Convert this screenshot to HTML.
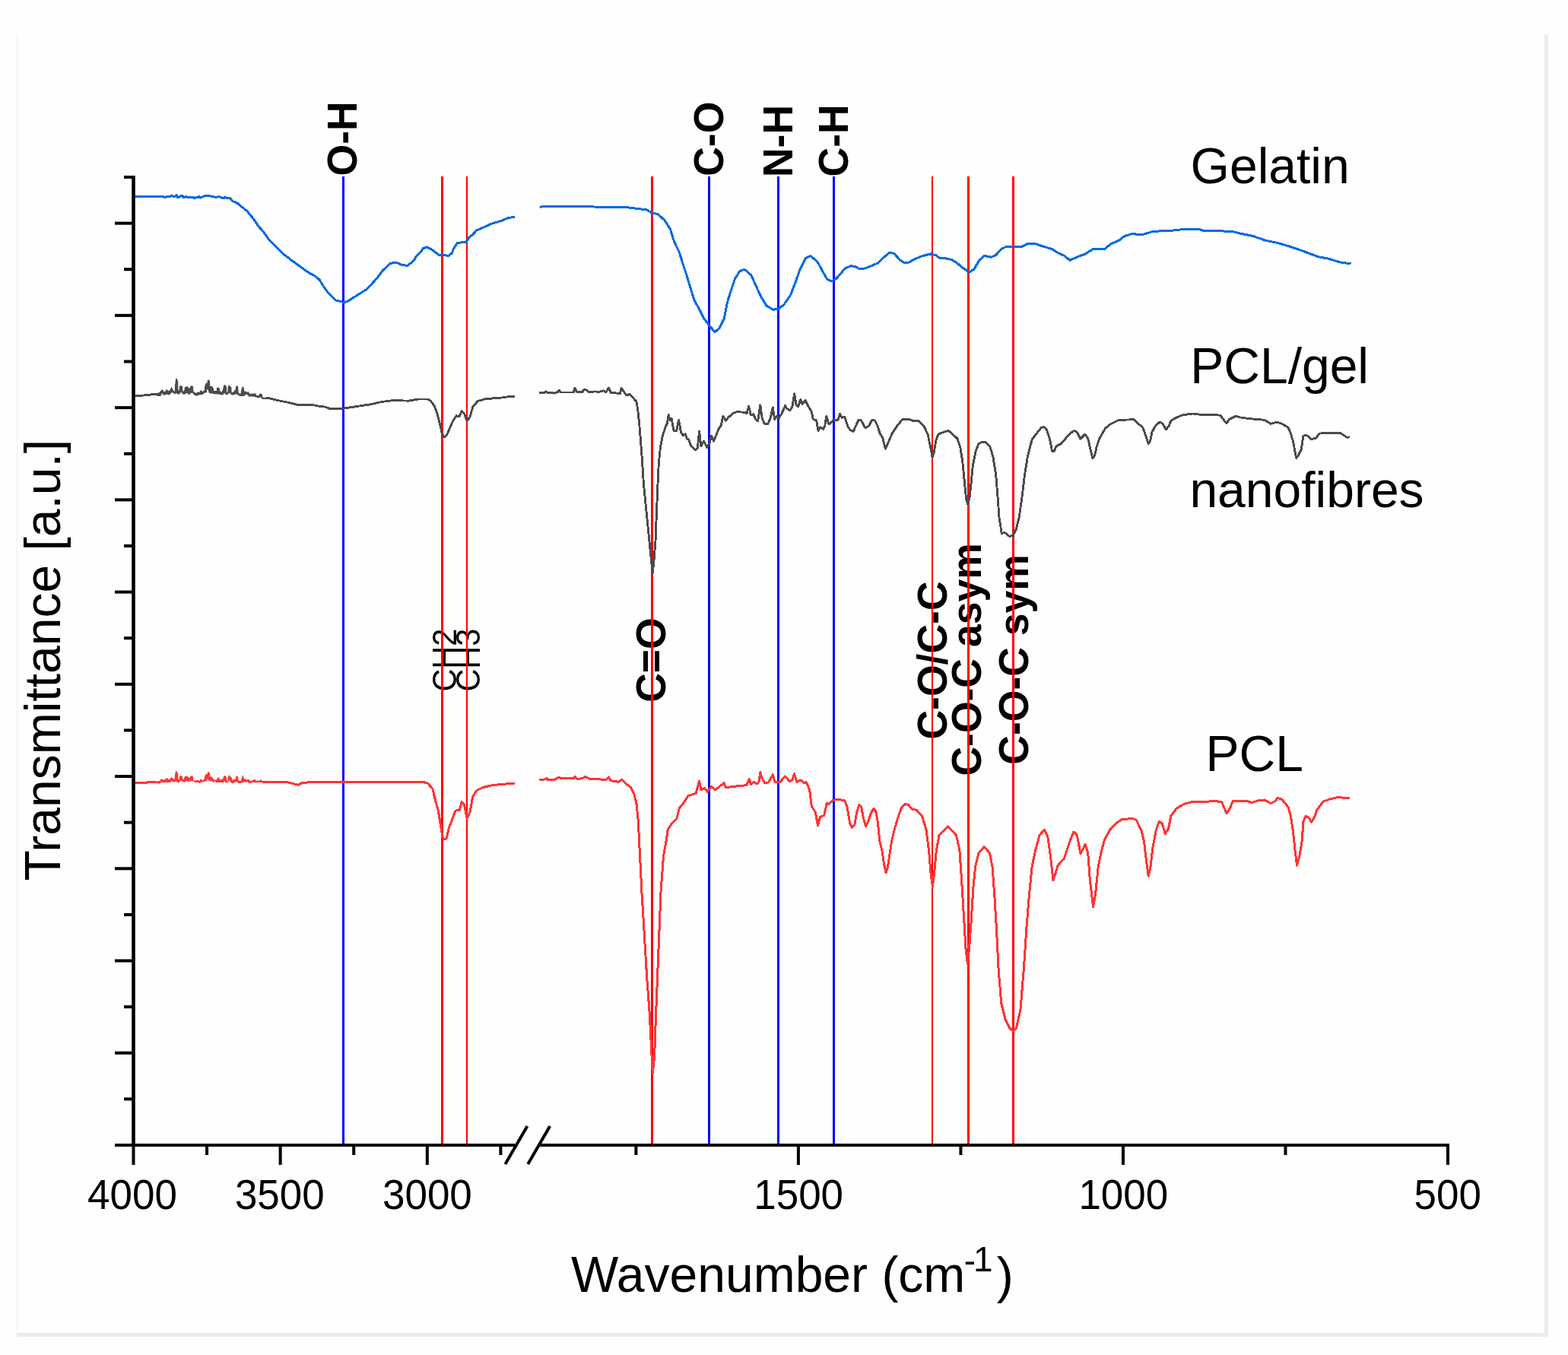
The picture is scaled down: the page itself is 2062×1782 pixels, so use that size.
<!DOCTYPE html>
<html><head><meta charset="utf-8"><title>FTIR spectra</title>
<style>html,body{margin:0;padding:0;background:#fefefe;}svg{display:block;}</style>
</head><body>
<svg width="2062" height="1782" viewBox="0 0 2062 1782">
<rect x="0" y="0" width="2062" height="1782" fill="#fefefe"/>
<rect x="22" y="45" width="1" height="1713" fill="#efefef"/>
<rect x="2031" y="45" width="5" height="1713" fill="#ececec"/>
<rect x="22" y="1753" width="2014" height="5" fill="#ececec"/>
<g font-family="'Liberation Sans', Arial, Helvetica, sans-serif" fill="#000">
<text transform="translate(469.43,231.42) rotate(-90) scale(1.01,1.05)" font-size="53" font-weight="bold">O-H</text>
<text transform="translate(950.77,231.83) rotate(-90) scale(1.01,1.05)" font-size="53" font-weight="bold">C-O</text>
<text transform="translate(1041.83,233.03) rotate(-90) scale(1.01,1.05)" font-size="53" font-weight="bold">N-H</text>
<text transform="translate(1115.42,232.41) rotate(-90) scale(1.01,1.05)" font-size="53" font-weight="bold">C-H</text>
<text transform="translate(600.10,909.60) rotate(-90) scale(1.0,1.05)" font-size="41.5" font-weight="normal">CH2</text>
<text transform="translate(631.25,909.60) rotate(-90) scale(1.0,1.05)" font-size="41.5" font-weight="normal">CH3</text>
<text transform="translate(875.42,923.80) rotate(-90) scale(1.01,1.05)" font-size="53" font-weight="bold">C=O</text>
<text transform="translate(1244.60,972.53) rotate(-90) scale(1.01,1.05)" font-size="53" font-weight="bold">C-O/C-C</text>
<text transform="translate(1290.40,1020.56) rotate(-90) scale(1.01,1.05)" font-size="53" font-weight="bold">C-O-C asym</text>
<text transform="translate(1351.50,1005.71) rotate(-90) scale(1.01,1.05)" font-size="53" font-weight="bold">C-O-C sym</text>
</g>
<g shape-rendering="crispEdges">
<rect x="449.90" y="232" width="3" height="1272" fill="#0000ff"/>
<rect x="931.00" y="232" width="3" height="1272" fill="#0000ff"/>
<rect x="1022.00" y="232" width="3" height="1272" fill="#0000ff"/>
<rect x="1094.90" y="232" width="3" height="1272" fill="#0000ff"/>
<rect x="580.00" y="232" width="3" height="1272" fill="#ff0000"/>
<rect x="612.85" y="232" width="2.3" height="1272" fill="#ff0000"/>
<rect x="855.50" y="232" width="3" height="1272" fill="#ff0000"/>
<rect x="1224.70" y="232" width="1.8" height="1272" fill="#ff0000"/>
<rect x="1272.10" y="232" width="2.6" height="1272" fill="#ff0000"/>
<rect x="1330.80" y="232" width="3" height="1272" fill="#ff0000"/>
</g>
<g fill="none" stroke-linejoin="round" stroke-linecap="butt" shape-rendering="crispEdges">
<path d="M175.0,258.5 L200.0,258.6 L206.0,258.9 L208.0,258.2 L213.0,258.2 L216.0,259.2 L220.0,258.9 L224.0,258.2 L226.0,257.6 L228.0,258.0 L229.0,259.0 L231.9,256.6 L233.6,259.9 L236.0,258.9 L238.0,257.5 L240.0,257.8 L241.0,259.8 L244.0,258.9 L248.0,259.2 L250.0,259.9 L254.5,259.5 L256.0,260.9 L258.0,259.5 L262.0,258.7 L263.0,260.1 L265.0,259.5 L270.0,257.3 L275.0,257.3 L279.0,258.6 L283.0,259.2 L285.0,259.6 L287.0,258.4 L290.0,259.2 L292.0,260.2 L295.0,260.3 L296.0,259.0 L298.0,260.8 L303.0,261.0 L306.2,264.8 L311.2,266.5 L318.8,272.8 L325.1,277.8 L333.9,288.5 L340.2,298.0 L346.5,304.9 L354.1,315.7 L362.9,324.5 L371.7,333.3 L383.1,342.1 L391.9,348.4 L405.8,358.5 L414.6,363.3 L420.0,367.8 L425.0,376.0 L431.3,384.8 L441.4,394.9 L451.5,397.4 L456.6,396.8 L464.1,391.8 L470.4,388.0 L483.0,379.8 L495.7,365.9 L503.2,355.8 L513.3,346.4 L520.9,345.1 L528.4,348.3 L536.0,349.5 L544.8,342.0 L547.4,336.9 L553.7,331.2 L556.2,326.8 L561.2,324.9 L567.5,328.1 L577.6,335.7 L583.9,335.7 L590.2,336.3 L594.6,332.5 L596.5,326.8 L601.6,319.3 L612.9,318.6 L616.7,312.3 L621.7,308.5 L626.8,302.9 L634.3,299.7 L647.0,294.0 L659.6,290.3 L668.4,286.5 L677.2,285.2" stroke="#006ae0" stroke-width="3"/>
<path d="M709.5,272.4 L715.1,271.4 L780.7,272.0 L822.3,272.4 L838.7,274.5 L850.0,275.8 L857.6,280.0 L865.2,281.7 L874.0,289.7 L881.6,301.7 L886.6,318.0 L892.9,330.7 L898.0,347.0 L903.0,362.2 L908.0,378.6 L913.1,395.0 L919.4,406.3 L925.7,418.9 L933.3,429.0 L940.2,436.6 L945.9,431.5 L952.2,418.9 L956.3,398.3 L961.3,382.0 L966.4,366.8 L972.7,356.7 L979.0,354.2 L987.8,361.8 L994.1,375.7 L1000.4,389.5 L1008.0,402.1 L1016.8,407.2 L1023.1,406.5 L1030.7,400.9 L1039.5,388.3 L1045.8,371.9 L1052.1,354.2 L1059.7,339.1 L1066.0,336.6 L1074.8,344.1 L1081.1,355.5 L1087.4,366.8 L1093.7,370.0 L1100.0,366.2 L1111.4,353.0 L1119.0,349.8 L1124.0,350.4 L1130.3,353.6 L1136.6,353.2 L1144.2,350.4 L1154.3,346.0 L1163.1,337.8 L1169.4,332.2 L1175.7,333.4 L1183.3,341.6 L1189.6,346.0 L1195.9,344.8 L1202.2,341.0 L1212.6,336.7 L1224.0,333.9 L1231.5,336.0 L1235.3,339.2 L1242.9,339.6 L1251.7,341.7 L1258.0,345.5 L1265.6,351.8 L1274.4,358.1 L1280.7,354.3 L1288.3,341.7 L1294.6,336.4 L1303.4,338.2 L1309.7,335.4 L1317.3,327.2 L1323.6,324.3 L1332.4,324.3 L1343.7,324.3 L1351.3,320.5 L1361.4,320.5 L1371.5,324.0 L1384.1,327.8 L1391.7,332.9 L1399.2,336.0 L1406.8,342.3 L1418.1,337.3 L1427.0,334.1 L1437.0,327.8 L1447.1,327.6 L1452.2,327.8 L1461.5,320.4 L1471.4,316.3 L1478.9,310.5 L1489.6,307.2 L1497.8,308.9 L1504.4,308.0 L1516.0,304.4 L1532.4,303.6 L1542.3,303.1 L1557.2,301.4 L1575.3,301.1 L1581.9,303.1 L1598.4,303.4 L1621.5,304.7 L1631.4,307.2 L1647.9,310.5 L1664.3,316.3 L1680.8,319.6 L1697.3,324.5 L1713.8,330.3 L1733.6,337.7 L1746.8,340.2 L1763.3,345.1 L1776.5,346.8" stroke="#006ae0" stroke-width="3"/>
<path d="M175.7,519.6 L179.5,520.9 L195.2,519.3 L205.0,518.3" stroke="#4b4b4b" stroke-width="2.9"/>
<path d="M350.0,523.9 L352.8,523.4 L365.4,526.6 L378.0,529.1 L390.7,532.2 L409.6,532.2 L415.9,533.5 L420.0,534.3 L428.8,535.3 L433.9,537.8 L445.2,537.8 L451.5,537.2 L470.4,534.3 L489.3,531.5 L502.0,528.4 L515.8,526.7 L537.3,527.1 L549.9,525.0 L562.5,525.0 L566.3,527.1 L571.3,534.0 L575.1,544.1 L578.9,559.3 L581.4,570.6 L583.9,575.0 L587.7,571.9 L591.5,563.0 L595.3,554.2 L600.3,546.7 L604.1,547.9 L607.2,540.3 L610.4,543.5 L614.2,553.6 L618.0,548.5 L621.7,535.3 L628.0,527.7 L636.9,525.0 L647.0,524.0 L659.6,523.0 L670.9,521.4 L677.2,521.4" stroke="#4b4b4b" stroke-width="2.9"/>
<path d="M709.1,516.9 L716.0,516.9 L717.8,514.9 L720.4,516.9 L724.7,516.0 L728.4,517.1 L733.5,515.6 L735.3,513.1 L737.5,516.0 L754.2,516.0 L756.0,510.2 L758.6,515.6 L765.5,515.6 L768.7,512.0 L772.0,513.5 L774.9,516.0 L782.2,514.9 L788.0,515.4 L793.8,513.8 L796.8,516.0 L800.4,510.2 L803.3,516.4 L811.3,517.1 L815.3,517.8 L817.1,510.2 L820.0,514.5 L823.7,520.0 L828.0,518.5 L831.7,521.8 L834.6,525.8 L836.8,527.6 L838.6,537.9 L840.8,558.4 L843.7,594.8 L846.6,638.6 L850.3,675.1 L853.9,711.6 L856.1,733.4 L858.2,753.5 L859.8,739.3 L862.0,711.6 L863.4,675.1 L864.9,638.6 L866.3,609.4 L868.5,587.5 L871.4,573.0 L875.1,561.3 L877.3,556.9 L879.2,545.2 L880.9,552.5 L883.1,550.3 L886.0,566.4 L889.7,566.4 L892.6,552.5 L895.5,568.6 L898.4,572.9 L901.3,570.8 L903.5,577.3 L905.7,578.1 L908.6,586.1 L914.5,591.9 L917.4,589.0 L919.6,567.1 L921.8,586.8 L925.4,580.2 L929.8,588.3 L933.4,581.7 L935.6,573.0 L938.5,580.2 L945.1,564.2 L948.0,559.8 L951.0,547.4 L954.6,553.3 L957.6,549.2 L963.9,543.5 L968.9,541.6 L977.7,542.2 L982.2,543.5 L984.7,534.0 L987.2,546.0 L991.0,544.8 L993.5,551.1 L996.7,553.6 L999.8,532.8 L1002.3,550.4 L1005.5,557.4 L1009.9,557.4 L1013.0,550.4 L1016.2,535.9 L1018.7,551.7 L1021.2,547.3 L1024.4,549.8 L1028.2,543.5 L1032.6,533.4 L1034.5,537.2 L1038.9,539.7 L1042.0,534.7 L1044.6,517.7 L1047.1,532.2 L1049.6,534.7 L1052.8,525.2 L1055.3,531.5 L1059.1,526.5 L1063.5,535.3 L1067.3,541.6 L1069.2,551.1 L1073.6,553.0 L1076.1,566.8 L1078.6,561.8 L1083.0,564.3 L1084.9,559.3 L1086.8,547.3 L1090.0,558.0 L1096.3,552.3 L1101.9,552.3 L1104.5,544.1 L1107.0,549.2 L1110.8,548.5 L1115.2,561.8 L1118.3,565.6 L1122.1,567.5 L1124.6,561.8 L1129.0,552.3 L1132.2,552.3 L1137.9,563.0 L1142.9,559.9 L1146.7,552.3 L1150.5,553.0 L1154.3,560.5 L1156.8,569.3 L1160.6,575.7 L1164.3,590.2 L1168.1,582.0 L1173.2,570.0 L1179.5,560.5 L1187.0,551.1 L1194.6,551.1 L1200.9,553.6 L1207.6,553.3 L1215.1,560.3 L1220.2,571.6 L1223.3,586.7 L1226.1,601.2 L1228.4,594.3 L1230.9,579.2 L1234.0,571.0 L1240.3,568.5 L1246.7,566.6 L1250.4,568.5 L1259.3,577.3 L1263.0,589.3 L1265.6,605.7 L1268.1,630.9 L1270.6,656.1 L1272.5,663.0 L1275.0,654.8 L1276.9,637.2 L1279.4,612.0 L1283.2,593.0 L1287.0,583.6 L1292.0,581.1 L1295.8,581.4 L1302.1,588.0 L1305.9,600.6 L1309.7,624.6 L1312.2,656.1 L1314.1,681.3 L1317.3,701.5 L1321.0,700.2 L1327.3,705.3 L1331.8,704.6 L1336.2,696.4 L1340.0,681.3 L1343.7,656.1 L1347.5,624.6 L1351.3,600.6 L1355.1,585.5 L1357.6,577.3 L1363.9,569.1 L1369.0,562.8 L1372.7,561.3 L1376.5,565.3 L1380.3,576.7 L1383.5,593.0 L1386.0,593.7 L1389.1,586.7 L1395.4,583.6 L1406.8,570.3 L1413.1,566.3 L1416.9,569.1 L1420.7,577.3 L1427.0,571.0 L1430.7,576.7 L1434.5,593.0 L1437.0,602.5 L1439.6,599.3 L1442.1,588.0 L1445.9,576.7 L1453.4,563.4 L1459.9,558.0 L1471.4,552.3 L1491.2,551.8 L1497.8,558.0 L1502.8,562.2 L1506.1,571.2 L1510.2,583.6 L1512.7,579.5 L1515.1,567.9 L1519.2,560.5 L1525.0,555.1 L1529.1,557.2 L1533.3,565.0 L1537.4,559.7 L1539.9,553.1 L1547.3,549.0 L1555.5,545.7 L1568.7,544.0 L1581.9,545.7 L1598.4,545.2 L1605.0,546.5 L1609.9,553.1 L1613.2,556.4 L1616.5,551.4 L1624.8,547.3 L1631.4,549.0 L1642.9,550.6 L1662.7,552.3 L1670.9,557.2 L1679.2,555.1 L1685.8,557.2 L1694.0,562.2 L1697.3,569.6 L1700.6,581.1 L1704.7,602.5 L1707.2,599.2 L1711.3,591.0 L1713.8,573.7 L1717.1,572.0 L1720.4,573.7 L1724.5,577.8 L1730.3,576.2 L1735.2,570.1 L1746.8,569.2 L1763.3,569.9 L1771.5,575.3 L1774.8,574.8" stroke="#4b4b4b" stroke-width="2.9"/>
<path d="M205.0,517.1 L208.7,517.1 L211.4,514.3 L213.0,512.3 L214.5,513.5 L214.8,515.4 L216.9,515.4 L219.4,512.3 L221.0,514.3 L223.0,514.3 L225.4,509.3 L227.4,512.7 L229.1,515.0 L230.1,515.4 L230.5,505.2 L231.5,498.2 L232.8,498.4 L233.2,501.1 L233.9,501.1 L234.0,513.0 L235.6,514.3 L236.2,508.2 L237.9,507.2 L239.6,508.2 L240.0,514.0 L242.0,515.4 L242.7,512.3 L243.4,509.3 L246.8,508.2 L248.1,510.6 L250.1,510.6 L250.5,508.2 L252.0,507.2 L253.5,508.2 L253.9,514.0 L255.6,516.4 L258.6,517.1 L260.3,515.4 L262.0,516.4 L263.4,514.3 L264.4,513.3 L265.8,515.4 L267.8,514.3 L269.2,514.3 L269.5,508.2 L270.5,504.5 L271.5,503.5 L272.9,503.5 L273.2,500.1 L274.3,499.3 L275.6,501.2 L275.8,508.2 L278.5,508.4 L280.5,510.5 L280.7,514.4 L285.1,514.4 L285.5,510.1 L287.1,509.4 L288.6,511.3 L289.0,514.4 L291.7,515.6 L293.3,512.5 L294.4,507.0 L295.6,506.2 L297.5,508.4 L297.9,516.3 L299.5,516.3 L299.7,510.1 L301.0,506.2 L302.2,508.2 L304.1,509.4 L304.5,516.3 L307.2,516.3 L307.6,514.4 L310.0,512.1 L310.7,507.4 L312.7,508.4 L313.3,513.2 L313.6,517.5 L317.1,517.5 L317.5,513.2 L318.9,508.4 L320.4,509.4 L320.8,515.2 L323.1,514.4 L324.7,515.9 L326.6,515.2 L327.8,517.5 L328.2,518.3 L333.6,517.5 L336.3,517.5 L336.7,520.2 L339.8,520.6 L341.4,518.3 L342.9,517.5 L344.5,518.7 L344.9,522.9 L350.0,523.3 L350.0,524.5 L345.3,524.5 L342.1,522.2 L339.8,523.3 L336.7,522.2 L333.6,521.4 L327.4,521.4 L324.3,518.3 L320.8,520.6 L315.4,520.6 L310.7,517.9 L305.7,519.4 L303.7,518.7 L302.2,515.9 L300.6,517.5 L297.9,519.4 L294.8,516.7 L292.9,519.4 L288.2,518.3 L284.7,518.3 L279.7,517.5 L275.0,516.7 L274.2,513.3 L271.9,511.0 L271.5,516.4 L269.5,516.4 L266.8,518.4 L264.1,518.8 L261.3,519.4 L257.6,520.5 L255.9,519.4 L252.5,516.4 L249.8,517.4 L248.4,519.4 L245.7,516.4 L243.4,518.4 L240.6,518.4 L238.6,515.4 L235.6,518.4 L233.9,518.4 L231.5,516.7 L229.8,518.4 L228.1,516.4 L225.4,516.4 L222.7,519.4 L219.6,518.4 L216.5,519.4 L214.5,519.4 L213.8,516.7 L212.1,518.4 L211.4,520.5 L207.4,520.5 L205.0,519.4 Z" fill="#4b4b4b" stroke="#4b4b4b" stroke-width="0.6"/>
<path d="M175.7,1029.0 L182.6,1029.3 L205.0,1028.7" stroke="#ff3535" stroke-width="3"/>
<path d="M350.0,1028.6 L366.7,1028.4 L378.0,1028.7 L384.3,1030.3 L391.9,1032.2 L398.2,1029.3 L409.6,1028.7 L420.0,1028.9 L495.7,1028.7 L557.4,1028.7 L562.5,1030.2 L568.8,1037.1 L572.6,1052.9 L576.4,1066.7 L579.5,1085.7 L582.0,1100.8 L583.9,1103.9 L587.1,1102.7 L590.2,1089.4 L594.0,1079.3 L599.0,1066.1 L604.1,1065.5 L607.2,1054.8 L610.4,1057.9 L614.2,1076.2 L618.0,1068.0 L621.7,1047.8 L626.8,1039.6 L634.3,1035.8 L647.0,1032.7 L659.6,1031.4 L677.2,1030.2" stroke="#ff3535" stroke-width="3"/>
<path d="M709.5,1025.4 L717.7,1024.9 L718.9,1023.9 L720.2,1025.4 L729.0,1025.2 L735.3,1022.0 L737.8,1023.9 L754.2,1023.9 L756.1,1021.1 L758.6,1024.2 L765.6,1023.9 L769.3,1021.6 L772.5,1022.7 L775.7,1024.5 L788.3,1024.5 L790.8,1025.2 L797.1,1025.2 L800.2,1022.0 L803.4,1026.7 L813.5,1028.3 L817.3,1025.2 L824.8,1032.1 L829.9,1035.9 L833.7,1044.1 L836.8,1055.4 L839.2,1079.0 L841.5,1125.0 L843.8,1171.1 L847.3,1228.6 L850.7,1286.1 L854.2,1332.1 L856.5,1378.2 L858.3,1411.5 L860.6,1389.7 L862.2,1343.6 L864.5,1286.1 L866.8,1228.6 L869.1,1171.1 L872.6,1125.0 L876.0,1106.6 L878.3,1090.5 L884.1,1082.5 L889.8,1076.7 L893.3,1062.9 L899.0,1056.0 L904.8,1046.8 L915.1,1043.4 L919.7,1027.3 L922.0,1038.8 L926.6,1036.5 L930.1,1041.1 L935.8,1034.2 L940.5,1038.8 L950.8,1030.7 L951.9,1029.5 L954.4,1035.8 L967.7,1034.0 L981.5,1032.7 L985.3,1024.5 L987.8,1031.4 L991.6,1028.3 L994.8,1030.8 L997.9,1028.9 L999.8,1015.7 L1001.7,1022.6 L1005.5,1029.5 L1010.5,1028.9 L1016.2,1018.8 L1019.3,1028.9 L1025.7,1028.7 L1032.6,1020.7 L1038.3,1027.7 L1042.0,1025.8 L1044.6,1017.6 L1047.7,1028.3 L1053.4,1025.8 L1057.2,1029.5 L1060.3,1028.7 L1064.7,1039.0 L1067.3,1060.4 L1072.3,1068.0 L1075.5,1085.7 L1078.6,1074.3 L1083.7,1072.4 L1087.4,1056.0 L1090.0,1057.9 L1095.0,1052.2 L1103.8,1051.6 L1110.8,1052.9 L1113.9,1060.4 L1117.7,1083.1 L1120.2,1088.2 L1124.0,1084.4 L1126.5,1069.3 L1129.7,1058.5 L1132.8,1061.7 L1135.3,1075.6 L1138.5,1086.9 L1141.7,1080.6 L1145.4,1069.3 L1148.6,1063.6 L1151.7,1066.7 L1154.3,1080.6 L1156.8,1105.8 L1159.9,1118.4 L1162.5,1136.1 L1165.0,1148.1 L1167.5,1139.9 L1170.0,1123.5 L1172.6,1105.8 L1177.0,1088.2 L1182.0,1071.8 L1185.8,1061.7 L1190.8,1057.3 L1194.6,1058.5 L1199.7,1064.2 L1205.4,1065.3 L1212.6,1073.3 L1218.0,1091.3 L1221.5,1118.2 L1224.2,1150.6 L1226.4,1165.8 L1228.7,1147.0 L1231.4,1118.2 L1235.0,1098.5 L1246.7,1086.8 L1257.5,1098.5 L1261.9,1118.2 L1264.6,1157.7 L1267.3,1202.6 L1270.0,1247.5 L1272.4,1268.2 L1274.5,1247.5 L1277.2,1211.6 L1279.9,1166.7 L1282.6,1139.8 L1287.1,1121.8 L1294.3,1113.7 L1301.5,1121.8 L1305.0,1139.8 L1307.7,1175.7 L1310.4,1220.6 L1313.1,1274.5 L1316.7,1319.3 L1322.1,1340.9 L1327.5,1351.7 L1332.5,1356.2 L1336.5,1351.7 L1341.9,1328.3 L1346.3,1274.5 L1349.9,1220.6 L1353.5,1175.7 L1357.1,1139.8 L1361.6,1118.2 L1367.0,1098.5 L1373.3,1091.3 L1377.8,1100.3 L1381.4,1125.4 L1385.0,1157.7 L1388.5,1147.0 L1391.2,1138.0 L1399.3,1129.0 L1406.5,1107.5 L1411.9,1094.0 L1416.4,1098.5 L1420.9,1122.7 L1424.5,1116.4 L1427.1,1110.2 L1430.7,1121.8 L1433.4,1157.7 L1437.6,1192.8 L1440.6,1175.7 L1444.2,1139.8 L1448.7,1118.2 L1452.5,1104.3 L1459.9,1091.1 L1466.5,1083.7 L1474.7,1077.9 L1489.6,1076.3 L1494.5,1078.7 L1501.1,1092.8 L1504.4,1106.0 L1506.9,1127.4 L1510.2,1152.1 L1512.7,1142.2 L1516.0,1114.2 L1520.1,1092.8 L1524.2,1080.4 L1528.3,1082.9 L1532.4,1096.9 L1536.6,1089.5 L1539.9,1073.0 L1547.3,1063.1 L1557.2,1057.3 L1568.7,1054.3 L1581.9,1054.5 L1598.4,1053.5 L1606.6,1054.8 L1610.8,1064.7 L1613.2,1069.7 L1616.5,1064.7 L1621.5,1053.2 L1639.6,1053.2 L1646.2,1055.7 L1654.4,1052.9 L1662.7,1051.9 L1670.9,1056.5 L1677.5,1053.2 L1680.0,1049.1 L1685.8,1051.5 L1694.0,1061.4 L1697.3,1073.0 L1700.6,1094.4 L1703.1,1119.1 L1705.6,1138.1 L1708.9,1125.7 L1712.2,1106.0 L1713.8,1081.2 L1717.1,1073.0 L1721.2,1075.4 L1724.5,1081.2 L1728.6,1074.6 L1732.0,1064.7 L1740.2,1054.0 L1750.1,1050.7 L1758.3,1048.6 L1766.6,1049.1 L1774.8,1049.9" stroke="#ff3535" stroke-width="3"/>
<path d="M205.0,1027.7 L210.8,1027.3 L211.3,1025.3 L213.0,1024.3 L214.8,1026.3 L216.2,1025.3 L217.9,1025.0 L219.4,1023.3 L221.3,1025.3 L223.0,1025.3 L225.4,1022.3 L227.1,1024.0 L228.8,1024.6 L230.1,1025.7 L230.3,1019.2 L231.3,1014.1 L232.8,1015.3 L233.7,1017.2 L233.9,1025.0 L235.9,1025.0 L236.2,1021.2 L237.9,1020.2 L239.6,1021.2 L240.0,1025.0 L242.0,1025.0 L243.0,1021.2 L246.4,1021.2 L248.1,1022.9 L249.8,1022.9 L250.5,1021.2 L252.0,1020.2 L253.5,1021.2 L253.9,1025.0 L255.9,1027.3 L258.3,1026.3 L261.3,1026.3 L262.4,1027.7 L263.4,1025.3 L265.4,1025.3 L266.4,1027.0 L267.8,1025.3 L269.2,1025.0 L269.5,1021.2 L270.9,1018.5 L272.9,1017.8 L273.2,1016.1 L274.5,1015.2 L275.8,1017.3 L275.8,1022.4 L277.4,1021.2 L280.1,1023.5 L280.9,1025.5 L285.1,1025.5 L286.9,1022.4 L288.6,1024.3 L290.2,1026.2 L293.3,1024.3 L294.4,1021.2 L296.0,1020.2 L297.5,1021.6 L297.9,1026.6 L299.5,1026.6 L299.9,1023.1 L301.0,1019.2 L302.2,1021.2 L304.5,1022.7 L305.3,1026.6 L307.2,1025.1 L310.0,1025.1 L310.7,1020.2 L312.7,1021.4 L313.4,1025.5 L314.2,1027.4 L316.9,1027.4 L317.7,1024.3 L319.5,1020.2 L320.4,1022.4 L321.2,1025.1 L322.4,1024.3 L324.3,1026.2 L325.9,1025.1 L327.8,1025.5 L328.2,1027.4 L331.3,1026.6 L335.2,1025.1 L336.7,1027.0 L341.4,1027.0 L342.9,1025.1 L345.3,1027.4 L350.0,1027.4 L350.0,1029.7 L345.6,1029.7 L344.5,1028.6 L337.9,1028.6 L336.7,1029.7 L335.9,1028.6 L330.5,1028.6 L329.3,1029.7 L327.4,1029.7 L325.1,1027.4 L323.9,1028.9 L322.0,1027.4 L320.4,1028.9 L318.5,1028.6 L316.5,1029.7 L313.4,1029.7 L311.1,1027.8 L308.8,1028.6 L306.9,1029.7 L304.9,1029.7 L303.7,1028.9 L301.4,1025.8 L299.9,1028.6 L296.4,1028.6 L295.2,1026.6 L294.4,1028.6 L288.2,1028.6 L284.7,1028.9 L282.4,1027.0 L280.5,1028.9 L278.9,1027.0 L275.0,1026.6 L274.2,1025.7 L271.9,1024.0 L271.5,1026.7 L268.8,1027.7 L266.8,1028.7 L266.1,1027.7 L264.1,1029.0 L262.7,1029.7 L261.0,1028.7 L255.9,1028.7 L253.9,1026.7 L249.8,1027.0 L248.1,1028.7 L247.1,1027.0 L245.1,1026.7 L243.0,1028.7 L240.6,1027.7 L240.0,1026.7 L236.2,1026.7 L235.6,1028.7 L233.5,1028.7 L231.5,1027.0 L230.1,1028.7 L228.8,1027.7 L226.7,1027.7 L225.4,1027.0 L223.7,1028.7 L219.6,1028.7 L214.2,1028.7 L212.5,1028.4 L210.1,1030.7 L207.0,1029.7 L205.0,1029.7 Z" fill="#ff3535" stroke="#ff3535" stroke-width="0.6"/>
</g>
<g fill="#000">
<rect x="173.20" y="231" width="4.6" height="1277"/>
<rect x="163" y="231.00" width="12.50" height="4"/>
<rect x="151" y="291.62" width="24.50" height="4"/>
<rect x="163" y="352.24" width="12.50" height="4"/>
<rect x="151" y="412.86" width="24.50" height="4"/>
<rect x="163" y="473.48" width="12.50" height="4"/>
<rect x="151" y="534.10" width="24.50" height="4"/>
<rect x="163" y="594.71" width="12.50" height="4"/>
<rect x="151" y="655.33" width="24.50" height="4"/>
<rect x="163" y="715.95" width="12.50" height="4"/>
<rect x="151" y="776.57" width="24.50" height="4"/>
<rect x="163" y="837.19" width="12.50" height="4"/>
<rect x="151" y="897.81" width="24.50" height="4"/>
<rect x="163" y="958.43" width="12.50" height="4"/>
<rect x="151" y="1019.05" width="24.50" height="4"/>
<rect x="163" y="1079.67" width="12.50" height="4"/>
<rect x="151" y="1140.29" width="24.50" height="4"/>
<rect x="163" y="1200.90" width="12.50" height="4"/>
<rect x="151" y="1261.52" width="24.50" height="4"/>
<rect x="163" y="1322.14" width="12.50" height="4"/>
<rect x="151" y="1382.76" width="24.50" height="4"/>
<rect x="163" y="1443.38" width="12.50" height="4"/>
<rect x="151" y="1504.00" width="24.50" height="4"/>
<rect x="173.20" y="1504" width="503.80" height="4"/>
<rect x="708" y="1504" width="1198" height="4"/>
<rect x="173.50" y="1504" width="4" height="28"/>
<rect x="270.07" y="1504" width="4" height="15"/>
<rect x="366.65" y="1504" width="4" height="28"/>
<rect x="463.22" y="1504" width="4" height="15"/>
<rect x="559.80" y="1504" width="4" height="28"/>
<rect x="656.38" y="1504" width="4" height="15"/>
<rect x="834.38" y="1504" width="4" height="15"/>
<rect x="1047.90" y="1504" width="4" height="28"/>
<rect x="1261.43" y="1504" width="4" height="15"/>
<rect x="1474.95" y="1504" width="4" height="28"/>
<rect x="1688.47" y="1504" width="4" height="15"/>
<rect x="1902.00" y="1504" width="4" height="28"/>
</g>
<g stroke="#000" stroke-width="4" stroke-linecap="butt">
<line x1="664.4" y1="1531" x2="693.4" y2="1481"/>
<line x1="694.2" y1="1531" x2="723.2" y2="1481"/>
</g>
<g font-family="'Liberation Sans', Arial, Helvetica, sans-serif" fill="#000" style="font-variant-ligatures:none">
<text transform="translate(115.00,1590.30) scale(1.0,1.035)" font-size="53" font-weight="normal">4000</text>
<text transform="translate(991.20,1590.35) scale(1.0,1.035)" font-size="53" font-weight="normal">1500</text>
<text transform="translate(1418.40,1590.30) scale(1.0,1.035)" font-size="53" font-weight="normal">1000</text>
<text transform="translate(1859.60,1590.30) scale(1.0,1.035)" font-size="53" font-weight="normal">500</text>
<text transform="translate(308.90,1590.30) scale(1.0,1.035)" font-size="53" font-weight="normal">3500</text>
<text transform="translate(502.95,1590.30) scale(1.0,1.035)" font-size="53" font-weight="normal">3000</text>
<text transform="translate(751.00,1699.25) scale(1.0,1.0)" font-size="66" font-weight="normal">Wavenumber (cm</text>
<text transform="translate(1267.80,1673.55) scale(1.0,1.0)" font-size="46" font-weight="normal">-</text>
<text transform="translate(1279.90,1672.20) scale(1.0,1.0)" font-size="46" font-weight="normal">1</text>
<text transform="translate(1310.70,1699.50) scale(1.0,1.0)" font-size="66" font-weight="normal">)</text>
<text transform="translate(78.74,1158.55) rotate(-90) scale(1.0,1.02)" font-size="66" font-weight="normal">Transmittance [a.u.]</text>
<text transform="translate(1565.60,240.78) scale(1.0,1.02)" font-size="66" font-weight="normal">Gelatin</text>
<text transform="translate(1565.25,504.19) scale(1.0,1.02)" font-size="66" font-weight="normal">PCL/gel</text>
<text transform="translate(1564.40,667.08) scale(1.0,1.02)" font-size="66" font-weight="normal">nanofibres</text>
<text transform="translate(1585.60,1014.36) scale(1.0,1.02)" font-size="66" font-weight="normal">PCL</text>
</g>
</svg>
</body></html>
